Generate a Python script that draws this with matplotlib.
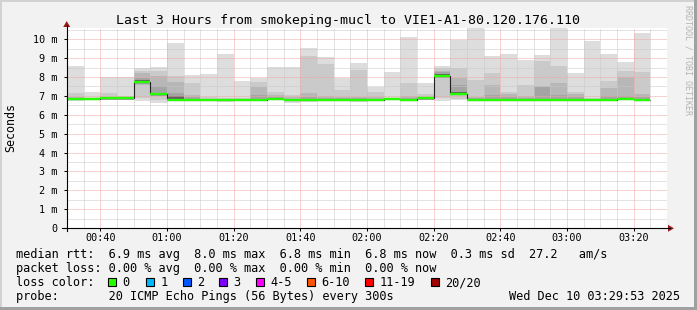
import numpy as np
import matplotlib
matplotlib.use("Agg")
import matplotlib.pyplot as plt
from matplotlib.patches import Rectangle, Polygon
from matplotlib.lines import Line2D

nan = np.nan

# ---------------- data (ms), one value per 5-minute slot from 00:30 ----------------
slot_first_minute = 30          # 00:30
slot_minutes = 5

rtt_median = [6.82, 6.82, 6.87, 6.87, 7.76, 7.08, 6.80, 6.80, 6.80, 6.80, 6.80, 6.80,
              6.86, 6.80, 6.80, 6.80, 6.80, 6.80, 6.80, 6.86, 6.80, 6.88, 8.04, 7.12,
              6.80, 6.80, 6.80, 6.80, 6.80, 6.80, 6.80, 6.80, 6.80, 6.85, 6.80, nan]
rtt_p20 = [8.59, 7.21, 8.01, 7.99, 8.46, 8.54, 9.82, 8.11, 8.15, 9.22, 7.81, 7.93,
           8.52, 8.53, 9.54, 9.06, 7.94, 8.75, 7.46, 8.28, 10.12, 7.70, 8.59, 9.99,
           10.70, 9.12, 9.22, 8.90, 9.17, 10.70, 8.22, 9.91, 9.22, 8.82, 10.35, nan]
rtt_p19 = [7.17, 6.90, 7.17, 7.00, 8.32, 8.32, 8.06, 7.70, 6.92, 6.90, 6.88, 7.76,
           7.20, 7.04, 9.12, 8.69, 7.34, 8.35, 7.22, 6.90, 7.70, 7.12, 8.46, 8.50,
           7.84, 8.23, 7.22, 7.60, 8.86, 8.59, 7.22, 6.90, 7.80, 8.30, 8.25, nan]
rtt_p18 = [6.95, 6.86, 6.95, 6.92, 8.20, 8.06, 7.76, 7.05, 6.86, 6.86, 6.85, 7.49,
           7.04, 6.92, 7.17, 6.98, 6.95, 6.95, 6.95, 6.86, 6.98, 6.95, 8.30, 7.95,
           6.95, 7.60, 7.08, 6.98, 7.55, 7.70, 7.08, 6.86, 7.44, 7.99, 7.08, nan]
rtt_p17 = [6.86, 6.84, 6.90, 6.88, 7.95, 7.50, 7.17, 6.95, 6.84, 6.84, 6.83, 7.05,
           6.92, 6.86, 6.95, 6.88, 6.88, 6.88, 6.86, 6.88, 6.90, 6.92, 8.25, 7.60,
           6.88, 7.05, 6.95, 6.88, 7.48, 7.04, 6.95, 6.84, 7.00, 6.98, 6.95, nan]
rtt_p15 = [6.84, 6.84, 6.89, 6.89, 7.86, 7.14, 7.00, 6.86, 6.82, 6.82, 6.82, 6.86,
           6.88, 6.82, 6.84, 6.84, 6.82, 6.84, 6.82, 6.88, 6.84, 6.90, 8.16, 7.22,
           6.84, 6.86, 6.86, 6.84, 6.86, 6.86, 6.84, 6.82, 6.86, 6.88, 6.84, nan]
rtt_p6 = [6.79, 6.79, 6.84, 6.84, 7.70, 7.03, 6.78, 6.78, 6.78, 6.78, 6.78, 6.78,
          6.83, 6.78, 6.78, 6.78, 6.78, 6.78, 6.78, 6.83, 6.78, 6.85, 7.99, 7.08,
          6.78, 6.78, 6.78, 6.78, 6.78, 6.78, 6.78, 6.78, 6.78, 6.82, 6.78, nan]
rtt_p4 = [6.78, 6.78, 6.80, 6.80, 7.62, 7.02, 6.78, 6.78, 6.78, 6.78, 6.78, 6.78,
          6.80, 6.78, 6.78, 6.78, 6.78, 6.78, 6.78, 6.80, 6.78, 6.80, 7.97, 7.07,
          6.78, 6.78, 6.78, 6.78, 6.78, 6.78, 6.78, 6.78, 6.78, 6.80, 6.78, nan]
rtt_p3 = [6.78, 6.78, 6.80, 6.80, 7.58, 7.00, 6.78, 6.78, 6.78, 6.78, 6.78, 6.78,
          6.80, 6.78, 6.78, 6.78, 6.78, 6.78, 6.78, 6.80, 6.78, 6.80, 7.95, 7.05,
          6.78, 6.78, 6.78, 6.78, 6.78, 6.78, 6.78, 6.78, 6.78, 6.80, 6.78, nan]
rtt_p2 = [6.77, 6.77, 6.80, 6.80, 6.87, 6.78, 6.77, 6.77, 6.77, 6.77, 6.77, 6.77,
          6.80, 6.77, 6.77, 6.77, 6.77, 6.77, 6.77, 6.80, 6.77, 6.80, 6.90, 6.82,
          6.77, 6.77, 6.77, 6.77, 6.77, 6.77, 6.77, 6.77, 6.77, 6.80, 6.77, nan]
rtt_p1 = [6.75, 6.76, 6.78, 6.78, 6.72, 6.64, 6.75, 6.75, 6.74, 6.70, 6.75, 6.75,
          6.76, 6.63, 6.68, 6.75, 6.75, 6.68, 6.74, 6.78, 6.75, 6.78, 6.72, 6.78,
          6.74, 6.75, 6.74, 6.75, 6.75, 6.75, 6.75, 6.75, 6.75, 6.76, 6.75, nan]

x_tick_minutes = [40, 60, 80, 100, 120, 140, 160, 180, 200]
x_tick_labels = ["00:40", "01:00", "01:20", "01:40", "02:00", "02:20", "02:40", "03:00", "03:20"]
y_ticks = [0, 1, 2, 3, 4, 5, 6, 7, 8, 9, 10]
y_tick_labels = ["0", "1 m", "2 m", "3 m", "4 m", "5 m", "6 m", "7 m", "8 m", "9 m", "10 m"]

title = "Last 3 Hours from smokeping-mucl to VIE1-A1-80.120.176.110"
line_rtt = "median rtt:  6.9 ms avg  8.0 ms max  6.8 ms min  6.8 ms now  0.3 ms sd  27.2   am/s"
line_loss = "packet loss: 0.00 % avg  0.00 % max  0.00 % min  0.00 % now"
loss_labels = ["0", "1", "2", "3", "4-5", "6-10", "11-19", "20/20"]
loss_colors = ["#26ff00", "#00b8ff", "#0059ff", "#7e00ff", "#ff00ff", "#ff5500", "#ff0000", "#a10000"]
probe_text = "probe:       20 ICMP Echo Pings (56 Bytes) every 300s"
date_text = "Wed Dec 10 03:29:53 2025"

# ---------------- figure ----------------
W, H = 697, 310
MONO = "DejaVu Sans Mono"
fig = plt.figure(figsize=(W / 100, H / 100), dpi=100, facecolor="#f2f2f2")


def fx(px):
    return px / W


def fy(py):
    return 1 - py / H


ax = fig.add_axes([fx(67), fy(228), 600 / W, 200 / H])
ax.set_facecolor("white")
ax.set_xlim(30, 210)
ax.set_ylim(0, 10.6)

med = np.array(rtt_median, dtype=float)
valid = ~np.isnan(med)
starts = slot_first_minute + slot_minutes * np.arange(len(med))


def layer(lo, hi, color):
    lo = np.array(lo, dtype=float)[valid]
    hi = np.array(hi, dtype=float)[valid]
    ax.bar(starts[valid], hi - lo, bottom=lo, width=slot_minutes, align="edge",
           color=color, linewidth=0, antialiased=False, zorder=1)


layer(rtt_p1, rtt_p20, "#dddddd")
layer(rtt_p2, rtt_p19, "#cacaca")
layer(rtt_p3, rtt_p18, "#b7b7b7")
layer(rtt_p4, rtt_p17, "#a4a4a4")
layer(rtt_p6, rtt_p15, "#606060")

nv = int(valid.sum())
edges = slot_first_minute + slot_minutes * np.arange(nv + 1)
ax.stairs(med[valid], edges, baseline=None, color="#202020", lw=0.8, zorder=3)
ax.hlines(med[valid], starts[valid], starts[valid] + slot_minutes,
          colors=loss_colors[0], lw=1.7, zorder=4)

# grid / ticks
ax.set_xticks(x_tick_minutes)
ax.set_xticklabels(x_tick_labels)
ax.set_xticks(np.arange(35, 210, 5), minor=True)
ax.set_yticks(y_ticks)
ax.set_yticklabels(y_tick_labels)
ax.set_yticks(np.arange(0.5, 10.6, 1.0), minor=True)
ax.set_axisbelow(False)
ax.grid(which="minor", color="#c8c8c8", linestyle=(0, (1, 1)), linewidth=0.72)
ax.grid(which="major", color="#f2a4a4", linestyle=(0, (1, 1)), linewidth=0.72)
ax.tick_params(which="major", length=2.2, width=0.75, direction="out", colors="black",
               labelsize=7.3)
ax.tick_params(axis="x", which="major", pad=1.5)
ax.tick_params(axis="y", which="major", pad=4.5)
ax.tick_params(which="minor", length=0)
for lab in ax.get_xticklabels() + ax.get_yticklabels():
    lab.set_family(MONO)
for s in ax.spines.values():
    s.set_visible(False)

# axes lines with arrows
fig.add_artist(Line2D([fx(62), fx(670)], [fy(228.3), fy(228.3)], transform=fig.transFigure,
                      color="black", lw=0.8))
fig.add_artist(Line2D([fx(66.7), fx(66.7)], [fy(231), fy(25)], transform=fig.transFigure,
                      color="black", lw=0.8))
arrow_c = "#9b1c1c"
fig.add_artist(Polygon([(fx(674), fy(228.3)), (fx(668), fy(224.8)), (fx(668), fy(231.8))],
                       closed=True, transform=fig.transFigure, color=arrow_c, lw=0))
fig.add_artist(Polygon([(fx(66.7), fy(21)), (fx(63.2), fy(27)), (fx(70.2), fy(27))],
                       closed=True, transform=fig.transFigure, color=arrow_c, lw=0))

# texts
fig.text(fx(348), fy(24), title, ha="center", va="baseline", family=MONO, fontsize=9.55)
fig.text(fx(11), fy(128), "Seconds", rotation=90, ha="center", va="center",
         family=MONO, fontsize=8.4)
fig.text(fx(688), fy(5), "RRDTOOL / TOBI OETIKER", rotation=270, ha="center", va="top",
         family=MONO, fontsize=6, color="#b4b4b4")

fs = 8.55
fig.text(fx(16), fy(258), line_rtt, ha="left", va="baseline", family=MONO, fontsize=fs)
fig.text(fx(16), fy(272), line_loss, ha="left", va="baseline", family=MONO, fontsize=fs)
fig.text(fx(16), fy(286), "loss color:", ha="left", va="baseline", family=MONO, fontsize=fs)
box_x = [108, 146, 183, 219, 256, 307, 365, 431]
for bx, lab, col in zip(box_x, loss_labels, loss_colors):
    fig.add_artist(Rectangle((fx(bx), fy(286)), 8 / W, 8 / H, transform=fig.transFigure,
                             facecolor=col, edgecolor="black", lw=0.8))
    fig.text(fx(bx + 14.5), fy(286), lab, ha="left", va="baseline", family=MONO, fontsize=fs)
fig.text(fx(16), fy(300), probe_text, ha="left", va="baseline", family=MONO, fontsize=fs)
fig.text(fx(680), fy(300), date_text, ha="right", va="baseline", family=MONO, fontsize=fs)

# frame
fig.add_artist(Rectangle((0, 1 - 2 / H), 1, 2 / H, transform=fig.transFigure,
                         color="#d2d2d2", lw=0))
fig.add_artist(Rectangle((0, 0), 2 / W, 1, transform=fig.transFigure, color="#d2d2d2", lw=0))
fig.add_artist(Rectangle((0, 0), 1, 3 / H, transform=fig.transFigure, color="#a0a0a0", lw=0))
fig.add_artist(Rectangle((1 - 3 / W, 0), 3 / W, 1, transform=fig.transFigure,
                         color="#a0a0a0", lw=0))

fig.savefig("out.png", dpi=100, facecolor=fig.get_facecolor())
